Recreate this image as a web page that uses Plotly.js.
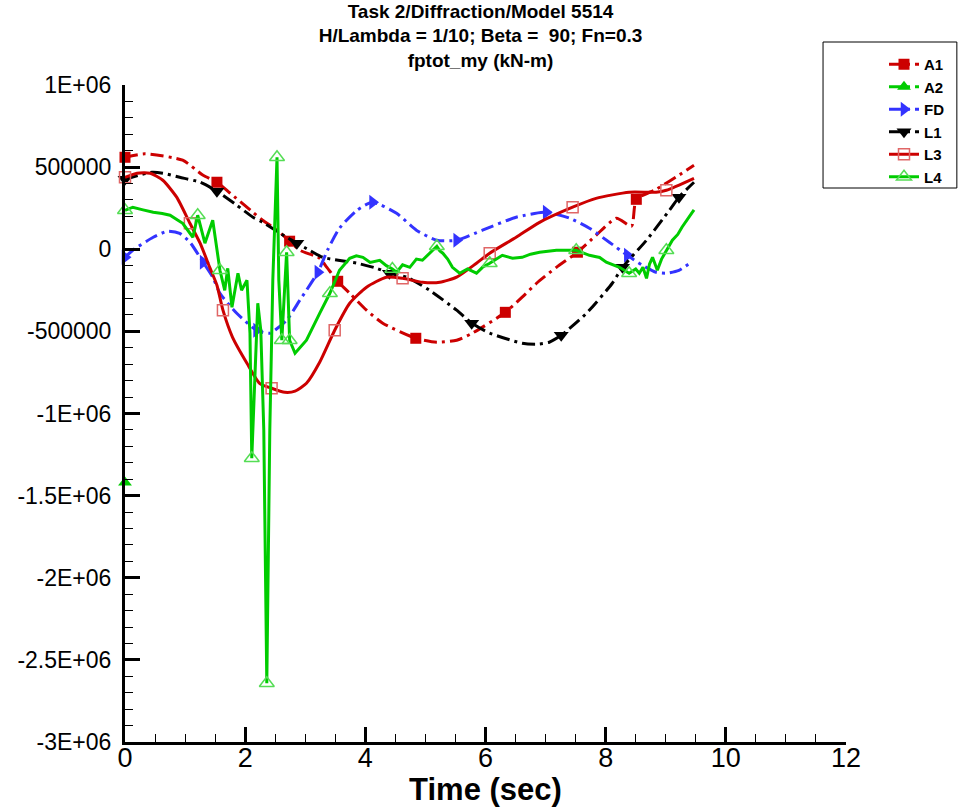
<!DOCTYPE html>
<html>
<head>
<meta charset="utf-8">
<script src="https://cdn.plot.ly/plotly-3.0.1.min.js"></script>
<style>html,body{margin:0;padding:0;background:#fff;}#chart{width:961px;height:807px;}</style>
</head>
<body>
<div id="chart"></div>
<script>
// ---- data (Time in sec, moment in kN-m) ----
const A1_t = [0,0.33,0.96,1.30,1.53,1.75,2.13,2.29,2.53,2.74,2.91,3.24,3.36,3.54,3.74,4.02,4.29,4.84,5.19,5.52,5.78,6.33,6.61,6.85,7.18,7.53,7.84,8.18,8.43,8.51,8.84,9.27,9.47];
const A1_v = [560000,581000,542000,450000,408000,341000,225000,177000,116000,49000,-6000,-55000,-110000,-195000,-268000,-371000,-450000,-542000,-566000,-554000,-511000,-384000,-292000,-207000,-110000,-18000,85000,189000,140000,304000,365000,463000,511000];
const A1_marks = [0,4,9,13,17,21,25,29];

const A2_t = [0];
const A2_v = [-1420000];
const A2_marks = [0];

const FD_t = [0,0.13,0.47,0.71,0.91,1.08,1.30,1.46,1.58,1.86,2.19,2.41,2.69,2.91,3.21,3.37,3.57,3.86,4.12,4.52,4.85,5.19,5.52,5.95,6.51,7.01,7.40,7.73,8.06,8.36,8.61,8.84,9.01,9.22,9.42];
const FD_v = [-49000,-6000,73000,110000,97000,43000,-79000,-170000,-268000,-390000,-493000,-511000,-432000,-310000,-140000,-6000,128000,237000,286000,219000,116000,55000,55000,116000,195000,225000,189000,128000,43000,-37000,-97000,-140000,-146000,-128000,-80000];
const FD_marks = [0,6,10,14,18,22,25,29];

const L1_t = [0,0.45,0.63,0.91,1.25,1.53,1.86,2.13,2.29,2.69,2.86,3.07,3.29,3.86,4.19,4.40,4.69,5.07,5.52,5.77,6.07,6.61,6.85,7.06,7.26,7.68,8.11,8.28,8.68,9.06,9.22,9.47];
const L1_v = [426000,469000,463000,438000,408000,353000,268000,195000,164000,73000,37000,-6000,-49000,-85000,-116000,-146000,-170000,-250000,-371000,-450000,-511000,-572000,-578000,-566000,-524000,-390000,-207000,-110000,55000,237000,317000,408000];
const L1_marks = [0,5,10,15,19,24,27,30];

const L3_t = [0,0.2,0.42,0.63,0.86,1.08,1.25,1.41,1.53,1.63,1.79,2.03,2.24,2.44,2.66,2.83,3.02,3.24,3.49,3.74,4.02,4.35,4.62,4.95,5.24,5.52,5.85,6.07,6.51,6.90,7.45,7.84,8.39,8.84,9.01,9.47];
const L3_v = [438000,463000,463000,420000,317000,158000,37000,-110000,-219000,-371000,-536000,-694000,-816000,-846000,-871000,-864000,-816000,-688000,-493000,-329000,-231000,-170000,-177000,-201000,-201000,-170000,-85000,-24000,73000,164000,256000,310000,347000,347000,359000,432000];
const L3_marks = [0,5,9,13,18,22,27,30,34];

const L4_t = [0,0.13,0.30,0.47,0.62,0.75,0.96,1.13,1.21,1.33,1.46,1.58,1.66,1.71,1.78,1.88,1.94,2.03,2.08,2.11,2.16,2.21,2.26,2.31,2.36,2.41,2.46,2.53,2.56,2.61,2.69,2.74,2.83,3.02,3.24,3.41,3.57,3.74,3.85,3.96,4.08,4.24,4.35,4.45,4.52,4.62,4.74,4.85,4.95,5.05,5.12,5.19,5.24,5.29,5.37,5.45,5.57,5.70,5.85,5.95,6.07,6.18,6.28,6.45,6.61,6.75,6.90,7.18,7.51,7.73,7.90,8.01,8.12,8.23,8.39,8.50,8.56,8.62,8.68,8.73,8.78,8.86,8.93,9.01,9.11,9.20,9.27,9.47];
const L4_v = [237000,256000,240000,225000,218000,207000,158000,73000,207000,37000,177000,-128000,-250000,-116000,-353000,-146000,-250000,-189000,-511000,-1272000,-797000,-329000,-493000,-1102000,-2642000,-1102000,-189000,560000,-189000,-554000,-18000,-554000,-633000,-554000,-390000,-268000,-128000,-55000,-40000,-49000,-80000,-67000,-100000,-120000,-140000,-95000,-110000,-60000,-67000,-30000,-6000,18000,-10000,-24000,-60000,-110000,-146000,-120000,-146000,-110000,-85000,-60000,-37000,-55000,-49000,-30000,-18000,-6000,-6000,-37000,-50000,-79000,-95000,-110000,-146000,-120000,-146000,-110000,-177000,-90000,-49000,-128000,-60000,-6000,55000,90000,134000,240000];
const L4_marks = [0,8,11,19,24,27,29,30,31,35,43,51,60,68,74,83];

const yTickVals = [1000000,500000,0,-500000,-1000000,-1500000,-2000000,-2500000,-3000000];
const yTickText = ['1E+06','500000','0','-500000','-1E+06','-1.5E+06','-2E+06','-2.5E+06','-3E+06'];
const xTickVals = [0,2,4,6,8,10,12];
const xTickText = ['0','2','4','6','8','10','12'];

// ---- build traces ----
const DASH = '13px,5px,3px,5px';
function series(name, t, v, marks, lineColor, dash, symbol, markColor, mSize, shape) {
  const set = new Set(marks);
  const cols = t.map((_, i) => set.has(i) ? markColor : 'rgba(0,0,0,0)');
  const open = symbol.indexOf('open') >= 0;
  return {
    type: 'scatter', mode: 'lines+markers', name: name, x: t, y: v,
    cliponaxis: false,
    line: {color: lineColor, width: 3, dash: dash, shape: shape || 'linear', smoothing: 0.6},
    marker: {symbol: symbol, size: mSize, color: cols,
             line: {width: open ? 1.5 : 0, color: cols}}
  };
}

const traces = [
  series('A1', A1_t, A1_v, A1_marks, '#cc0000', DASH, 'square', '#cc0000', 11, 'spline'),
  series('A2', A2_t, A2_v, A2_marks, '#00cc00', DASH, 'triangle-up', '#00cc00', 12, 'linear'),
  series('FD', FD_t, FD_v, FD_marks, '#3333ff', DASH, 'triangle-right', '#3333ff', 13, 'spline'),
  series('L1', L1_t, L1_v, L1_marks, '#000000', DASH, 'triangle-down', '#000000', 13, 'spline'),
  series('L3', L3_t, L3_v, L3_marks, '#cc0000', 'solid', 'square-open', '#e06666', 11, 'spline'),
  series('L4', L4_t, L4_v, L4_marks, '#00cc00', 'solid', 'triangle-up-open', '#55dd55', 13, 'linear')
];

// legend frame position in pixels
const W = 961, H = 807, ML = 125, MR = 114, MT = 85, MB = 65;
const pw = W - ML - MR, ph = H - MT - MB;
const px2x = p => (p - ML) / pw;
const py2y = p => (H - MB - p) / ph;

const layout = {
  width: W, height: H,
  paper_bgcolor: '#ffffff', plot_bgcolor: '#ffffff',
  margin: {l: ML, r: MR, t: MT, b: MB},
  title: {
    text: 'Task 2/Diffraction/Model 5514<br>H/Lambda = 1/10; Beta =  90; Fn=0.3<br>fptot_my (kN-m)',
    font: {family: 'Liberation Sans, Arial, sans-serif', size: 19, color: '#000', weight: 'bold'},
    x: 0.5, xref: 'container', xanchor: 'center',
    y: 0.978, yref: 'container', yanchor: 'top'
  },
  showlegend: true,
  legend: {
    x: px2x(884), y: py2y(48), xanchor: 'left', yanchor: 'top',
    bgcolor: 'rgba(0,0,0,0)', borderwidth: 0,
    font: {family: 'Liberation Sans, Arial, sans-serif', size: 15, color: '#000', weight: 'bold'},
    tracegroupgap: 0
  },
  shapes: [{
    type: 'rect', xref: 'paper', yref: 'paper',
    x0: px2x(824), x1: px2x(958), y0: py2y(188), y1: py2y(42),
    line: {color: '#000', width: 1}, fillcolor: 'rgba(0,0,0,0)', layer: 'below'
  }],
  xaxis: {
    range: [0, 12], showgrid: false, zeroline: false,
    showline: true, linecolor: '#000', linewidth: 3,
    ticks: 'inside', ticklen: 15, tickwidth: 3, tickcolor: '#000',
    tickmode: 'array', tickvals: xTickVals, ticktext: xTickText,
    tickfont: {family: 'Liberation Sans, Arial, sans-serif', size: 27, color: '#000'},
    ticklabelstandoff: -10,
    minor: {dtick: 0.5, ticks: 'inside', ticklen: 8, tickwidth: 1, tickcolor: '#000', showgrid: false},
    title: {text: 'Time (sec)', standoff: 0,
            font: {family: 'Liberation Sans, Arial, sans-serif', size: 31, color: '#000', weight: 'bold'}}
  },
  yaxis: {
    range: [-3000000, 1000000], showgrid: false, zeroline: false,
    showline: true, linecolor: '#000', linewidth: 3,
    ticks: 'inside', ticklen: 15, tickwidth: 3, tickcolor: '#000',
    tickmode: 'array', tickvals: yTickVals, ticktext: yTickText,
    tickfont: {family: 'Liberation Sans, Arial, sans-serif', size: 23, color: '#000'},
    ticklabelstandoff: 6,
    minor: {dtick: 100000, ticks: 'inside', ticklen: 8, tickwidth: 1, tickcolor: '#000', showgrid: false}
  }
};

Plotly.newPlot('chart', traces, layout, {displayModeBar: false, staticPlot: true});
</script>
</body>
</html>
